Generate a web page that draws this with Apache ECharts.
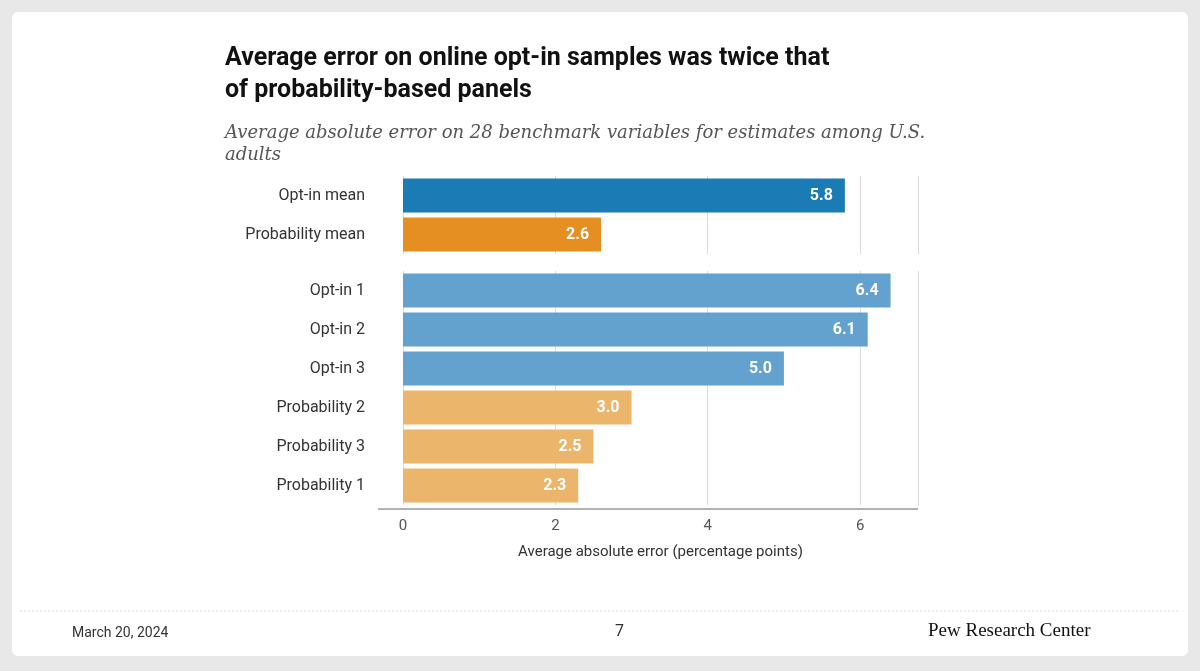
<!DOCTYPE html>
<html>
<head>
<meta charset="utf-8">
<script src="https://cdn.jsdelivr.net/npm/echarts@6/dist/echarts.min.js"></script>
<style>
body{margin:0;background:#e8e8e8;}
#card{position:absolute;left:12px;top:12px;width:1176px;height:644px;background:#fff;border-radius:6px;}
#main{position:absolute;left:0;top:0;width:1200px;height:671px;}
</style>
</head>
<body>
<div id="card"></div>
<div id="main"></div>
<script>
var meanCats = ['Opt-in mean', 'Probability mean'];
var meanVals = [5.8, 2.6];
var meanColors = ['#1a7bb5', '#e58f22'];
var sampleCats = ['Opt-in 1', 'Opt-in 2', 'Opt-in 3', 'Probability 2', 'Probability 3', 'Probability 1'];
var sampleVals = [6.4, 6.1, 5.0, 3.0, 2.5, 2.3];
var sampleColors = ['#63a2cf', '#63a2cf', '#63a2cf', '#ebb56b', '#ebb56b', '#ebb56b'];

var chart = echarts.init(document.getElementById('main'));
var font = 'Roboto, "Noto Sans", sans-serif';
function xAx(idx, show) {
  return {
    gridIndex: idx, type: 'value', min: 0, max: 6.76, interval: 2,
    axisLine: {show: false}, axisTick: {show: false},
    splitLine: {lineStyle: {color: '#dcdcdc'}},
    axisLabel: {show: show, showMaxLabel: false, color: '#555', fontSize: 15, fontFamily: font, margin: 14},
    name: show ? 'Average absolute error (percentage points)' : '',
    nameLocation: 'middle', nameGap: 40,
    nameTextStyle: {color: '#333', fontSize: 15, fontFamily: font}
  };
}
function yAx(idx, cats) {
  return {
    gridIndex: idx, type: 'category', data: cats, inverse: true,
    axisLine: {show: false}, axisTick: {show: false},
    axisLabel: {color: '#333', fontSize: 16, fontFamily: font, margin: 38}
  };
}
function ser(idx, vals, colors) {
  return {
    type: 'bar', xAxisIndex: idx, yAxisIndex: idx, barWidth: 34,
    data: vals.map(function (v, i) { return {value: v, itemStyle: {color: colors[i]}}; }),
    label: {show: true, position: 'insideRight', formatter: function (p) { return p.value.toFixed(1); },
      color: '#fff', fontWeight: 'bold', fontSize: 16, fontFamily: font, distance: 12}
  };
}
chart.setOption({
  animation: false,
  title: [{
    text: 'Average error on online opt-in samples was twice that\nof probability-based panels',
    left: 220, top: 38,
    textStyle: {fontSize: 25, fontWeight: 'bold', color: '#111', lineHeight: 32, fontFamily: font}
  }, {
    text: 'Average absolute error on 28 benchmark variables for estimates among U.S.\nadults',
    left: 220, top: 117,
    textStyle: {fontSize: 18, fontStyle: 'italic', fontWeight: 'normal', color: '#555', lineHeight: 22, fontFamily: '"DejaVu Serif", "Liberation Serif", serif'}
  }],
  grid: [
    {left: 403, right: 282, top: 176, height: 78},
    {left: 403, right: 282, top: 271, height: 234}
  ],
  xAxis: [xAx(0, false), xAx(1, true)],
  yAxis: [yAx(0, meanCats), yAx(1, sampleCats)],
  series: [ser(0, meanVals, meanColors), ser(1, sampleVals, sampleColors)],
  graphic: [
    {type: 'line', shape: {x1: 378, y1: 509, x2: 918, y2: 509}, style: {stroke: '#999', lineWidth: 1.5}},
    {type: 'line', shape: {x1: 20, y1: 611, x2: 1180, y2: 611}, style: {stroke: '#ddd', lineDash: [2, 2]}},
    {type: 'text', left: 72, top: 626, style: {text: 'March 20, 2024', fontSize: 14, fill: '#333', fontFamily: font}},
    {type: 'text', left: 615, top: 624, style: {text: '7', fontSize: 16, fill: '#333', fontFamily: font}},
    {type: 'text', left: 928, top: 622, style: {text: 'Pew Research Center', fontSize: 19, fill: '#111', fontFamily: '"Liberation Serif", serif'}}
  ]
});
</script>
</body>
</html>
